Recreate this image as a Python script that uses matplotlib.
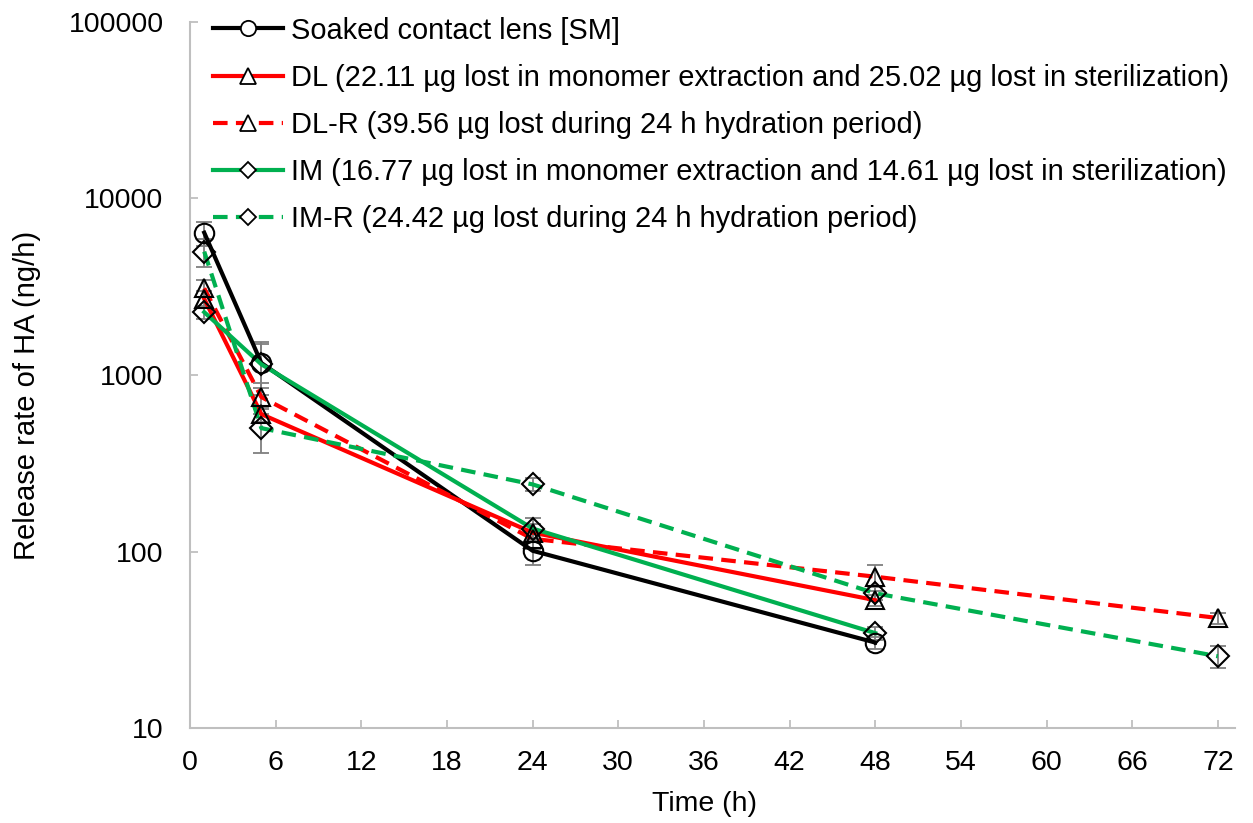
import matplotlib.pyplot as plt
from matplotlib.lines import Line2D

plt.rcParams['font.family'] = ['Liberation Sans', 'DejaVu Sans']

# release rate of HA (ng/h) at each sampling time (h)
sm_t = [1, 5, 24, 48]
sm = [6400, 1170, 101, 30.5]
sm_err = [1000, 330, 17, 2.5]

dl_t = [1, 5, 24, 48]
dl = [2700, 600, 128, 53]
dl_err = [300, 60, 15, 4]

dlr_t = [1, 5, 24, 48, 72]
dlr = [3100, 750, 118, 72, 42]
dlr_err = [350, 150, 14, 12, 3]

im_t = [1, 5, 24, 48]
im = [2270, 1150, 135, 34.5]
im_err = [200, 380, 20, 3]

imr_t = [1, 5, 24, 48, 72]
imr = [5000, 500, 240, 58, 25.5]
imr_err = [900, 140, 20, 5, 3.5]

labels = [
    'Soaked contact lens [SM]',
    'DL (22.11 µg lost in monomer extraction and 25.02 µg lost in sterilization)',
    'DL-R (39.56 µg lost during 24 h hydration period)',
    'IM (16.77 µg lost in monomer extraction and 14.61 µg lost in sterilization)',
    'IM-R (24.42 µg lost during 24 h hydration period)',
]

RED = '#ff0000'
GREEN = '#00b050'
GRAY = '#bfbfbf'
series = [
    (sm_t, sm, sm_err, 'black', '-', 'o'),
    (dl_t, dl, dl_err, RED, '-', '^'),
    (dlr_t, dlr, dlr_err, RED, '--', '^'),
    (im_t, im, im_err, GREEN, '-', 'D'),
    (imr_t, imr, imr_err, GREEN, '--', 'D'),
]
plot_ms = {'o': 14, '^': 13, 'D': 11}
leg_ms = {'o': 11, '^': 12, 'D': 8}
DASH = (3.5, 2)

fig, ax = plt.subplots(figsize=(12.53, 8.23), dpi=100)
fig.subplots_adjust(left=0.1516, right=0.9856, top=0.9733, bottom=0.1154)

handles = []
for (t, y, e, c, ls, m), lab in zip(series, labels):
    ax.errorbar(t, y, yerr=e, fmt='none', ecolor='#7f7f7f', elinewidth=1.3,
                capsize=6, capthick=1.3, zorder=2)
    line_kw = dict(color=c, linestyle=ls, linewidth=3)
    if ls == '--':
        line_kw['dashes'] = DASH
    ax.plot(t, y, zorder=3, **line_kw)
    ax.plot(t, y, linestyle='none', marker=m, markersize=plot_ms[m],
            markerfacecolor='none', markeredgecolor='black',
            markeredgewidth=1.5, zorder=4)
    handles.append(Line2D([], [], marker=m, markersize=leg_ms[m],
                          markerfacecolor='white', markeredgecolor='black',
                          markeredgewidth=1.3, **line_kw))

ax.set_yscale('log')
ax.set_ylim(10, 100000)
ax.set_xlim(0, 73.2)
ax.set_xticks(range(0, 73, 6))
ax.set_yticks([10, 100, 1000, 10000, 100000])
ax.set_yticklabels(['10', '100', '1000', '10000', '100000'])
ax.minorticks_off()
ax.tick_params(labelsize=20.5, direction='in', length=6, width=1.3, color=GRAY)
ax.tick_params(axis='y', pad=19)
ax.tick_params(axis='x', pad=16)
for s in ['top', 'right']:
    ax.spines[s].set_visible(False)
for s in ['left', 'bottom']:
    ax.spines[s].set_color(GRAY)
    ax.spines[s].set_linewidth(1.5)

ax.set_xlabel('Time (h)', fontsize=20.5, va='center')
ax.set_ylabel('Release rate of HA (ng/h)', fontsize=21, va='center')
ax.xaxis.set_label_coords(0.492, -0.108)
ax.yaxis.set_label_coords(-0.156, 0.4717)

ax.legend(handles, labels, loc='upper left', bbox_to_anchor=(0.161, 0.994),
          bbox_transform=fig.transFigure, frameon=False, fontsize=20.9,
          handlelength=2.4, handletextpad=0.28, labelspacing=0.66,
          borderaxespad=0)

fig.savefig('out.png')
